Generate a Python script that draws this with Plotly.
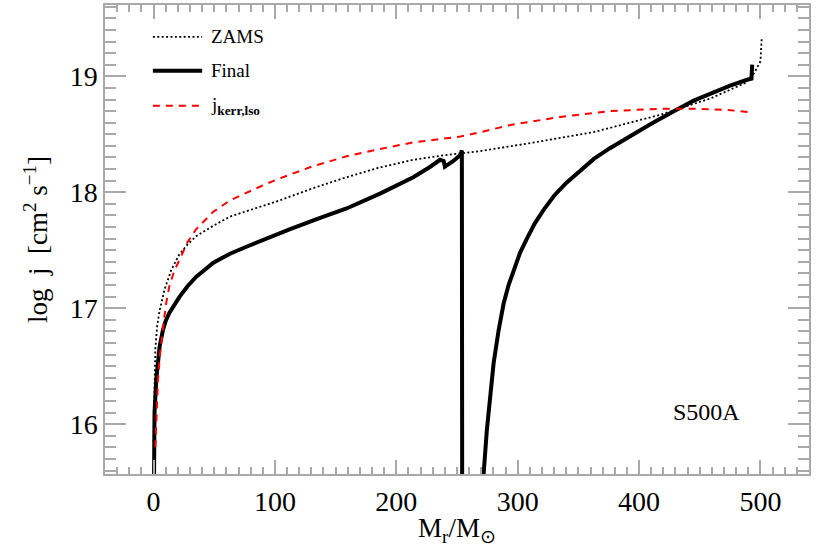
"""Specific angular momentum profile, S500A model: ZAMS vs final vs j_kerr,lso."""
import plotly.graph_objects as go

# ── data ─────────────────────────────────────────────────────────────
zams_m = [0, 0.5, 1.5, 3, 5, 9, 14.6, 21, 28, 35, 49, 63, 90, 104, 130, 159,
          185, 214, 240, 266, 308, 363, 418, 459, 487, 495, 500, 501]
zams_j = [15.85, 16.3, 16.65, 16.85, 16.98, 17.16, 17.33, 17.46, 17.55, 17.62,
          17.71, 17.79, 17.88, 17.93, 18.03, 18.13, 18.21, 18.28, 18.32, 18.35,
          18.42, 18.52, 18.67, 18.81, 18.94, 19.03, 19.13, 19.32]

final_m = [0, 0.3, 0.8, 2.2, 5, 7.7, 10, 13, 17, 21.5, 28, 35, 42, 49, 56, 63,
           76.5, 90, 104, 112, 135, 159, 187, 214, 228, 236, 239, 240, 247,
           252.7, 254, 254.3,
           None,
           271.5, 272, 274.6, 277.5, 280.2, 284.3, 288.4, 292.5, 296.7, 302,
           307.6, 314, 321.5, 330, 340, 351, 363, 376, 390, 410, 429, 445, 459,
           475, 489, 492.6, 493.2]
final_j = [15.0, 15.7, 16.1, 16.38, 16.67, 16.81, 16.89, 16.96, 17.03, 17.1,
           17.19, 17.27, 17.33, 17.39, 17.43, 17.47, 17.53, 17.59, 17.65, 17.68,
           17.77, 17.86, 17.99, 18.13, 18.22, 18.28, 18.27, 18.22, 18.27, 18.32,
           18.36, 15.0,
           None,
           15.0, 15.58, 15.95, 16.27, 16.53, 16.81, 17.04, 17.2, 17.33, 17.48,
           17.6, 17.73, 17.85, 17.97, 18.08, 18.18, 18.29, 18.38, 18.47, 18.59,
           18.70, 18.79, 18.85, 18.92, 18.97, 18.98, 19.1]

kerr_m = [1.5, 2.5, 3.6, 5.5, 7.7, 10, 13, 17, 21.5, 28, 35, 49, 63, 90, 104,
          130, 159, 185, 214, 240, 253, 270, 294, 335, 376, 418, 445, 473, 492]
kerr_j = [15.8, 16.1, 16.38, 16.62, 16.84, 17.02, 17.19, 17.32, 17.42, 17.57,
          17.68, 17.83, 17.93, 18.06, 18.12, 18.22, 18.31, 18.37, 18.43, 18.46,
          18.48, 18.52, 18.58, 18.65, 18.70, 18.72, 18.72, 18.71, 18.69]

legend_labels = ["ZAMS", "Final", "j<sub><b>kerr,lso</b></sub>"]
model_label = "S500A"

X_RANGE = [-40, 540]
Y_RANGE = [15.57, 19.615]

# ── styling ──────────────────────────────────────────────────────────
SERIF = "Liberation Serif, Times New Roman, serif"
FRAME = "darkgray"
RED = "#ff0000"
TICKFONT = dict(family=SERIF, size=28, color="black")

styles = [
    dict(color="black", width=1.8, dash="2px,2.4px"),
    dict(color="black", width=4),
    dict(color=RED, width=2, dash="7px,6px"),
]

fig = go.Figure()
for xs, ys, st in zip([zams_m, final_m, kerr_m], [zams_j, final_j, kerr_j], styles):
    fig.add_trace(go.Scatter(x=xs, y=ys, mode="lines", line=st,
                             showlegend=False, connectgaps=False))

# empty trace so the top/right tick-only axes get drawn
fig.add_trace(go.Scatter(x=[None], y=[None], xaxis="x2", yaxis="y2",
                         mode="lines", showlegend=False, hoverinfo="skip"))

# hand-drawn legend in the upper-left corner (paper coords)
for lbl, st, yp in zip(legend_labels, styles, [0.932, 0.860, 0.785]):
    fig.add_shape(type="line", xref="paper", yref="paper",
                  x0=0.068, x1=0.138, y0=yp, y1=yp, line=st)
    fig.add_annotation(xref="paper", yref="paper", x=0.148, y=yp,
                       text=lbl, showarrow=False, xanchor="left", yanchor="middle",
                       font=dict(family=SERIF, size=19, color="black"))

fig.add_annotation(xref="paper", yref="paper", x=0.855, y=0.132,
                   text=model_label, showarrow=False,
                   xanchor="center", yanchor="middle",
                   font=dict(family=SERIF, size=24, color="black"))

# tick-only settings shared by the main axes and the top/right copies
x_ticks = dict(range=X_RANGE, tick0=0, dtick=100, ticks="inside", ticklen=14,
               tickwidth=1.5, tickcolor=FRAME,
               minor=dict(ticks="inside", dtick=10, ticklen=7, tickwidth=1.5,
                          tickcolor=FRAME, showgrid=False),
               showgrid=False, zeroline=False)
y_ticks = dict(range=Y_RANGE, tick0=16, dtick=1, ticks="inside", ticklen=21,
               tickwidth=1.5, tickcolor=FRAME,
               minor=dict(ticks="inside", dtick=0.1, ticklen=11, tickwidth=1.5,
                          tickcolor=FRAME, showgrid=False),
               showgrid=False, zeroline=False)

fig.update_layout(
    template="none",
    width=830, height=554,
    paper_bgcolor="white", plot_bgcolor="white",
    margin=dict(l=105, r=21, t=5, b=80),
    font=dict(family=SERIF, color="black"),
    showlegend=False,
    xaxis=dict(
        **x_ticks,
        showline=True, linecolor=FRAME, linewidth=1.5, mirror=True,
        tickfont=TICKFONT, ticklabelstandoff=2,
        title=dict(text="M<sub>r</sub>/M<sub>⊙</sub>", standoff=2,
                   font=dict(family=SERIF, size=27, color="black")),
    ),
    yaxis=dict(
        **y_ticks,
        showline=True, linecolor=FRAME, linewidth=1.5, mirror=True,
        tickfont=TICKFONT,
        title=dict(text="log&nbsp;&nbsp;j&nbsp;&nbsp;[cm<sup>2</sup>&nbsp;s<sup>−1</sup>]",
                   standoff=14, font=dict(family=SERIF, size=27, color="black")),
    ),
    xaxis2=dict(**x_ticks, overlaying="x", matches="x", side="top", anchor="y2",
                showline=False, showticklabels=False),
    yaxis2=dict(**y_ticks, overlaying="y", matches="y", side="right", anchor="x2",
                showline=False, showticklabels=False),
)

fig.write_html("out.html", config={"displayModeBar": False},
               post_script="document.body.style.margin='0';")
